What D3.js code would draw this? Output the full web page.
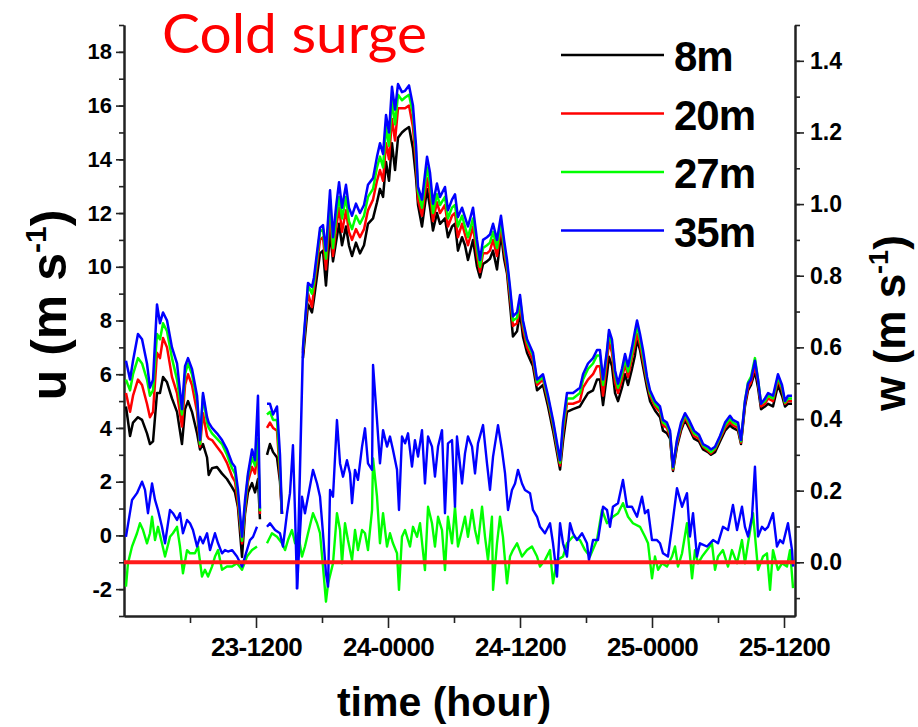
<!DOCTYPE html>
<html>
<head>
<meta charset="utf-8">
<script src="https://cdn.jsdelivr.net/npm/d3@7"></script>
<style>
body { margin: 0; background: #fff; }
svg { display: block; font-family: "Liberation Sans", Arial, sans-serif; }
</style>
</head>
<body>
<svg id="chart" width="918" height="727"></svg>
<script>
// hours since 23-0000, shared by the four u series (null = gap in record)
const uHours = [
  0.18,0.55,0.82,1.27,1.64,2.09,2.36,2.64,3.0,3.27,
  3.55,3.91,4.36,4.82,5.27,5.55,5.82,6.18,6.64,6.91,
  7.18,7.55,7.7,8.0,8.45,8.91,9.36,9.82,10.09,10.36,
  10.73,11.0,11.27,11.64,11.91,12.18,12.36,12.6,13.0,13.27,
  13.55,13.91,14.18,14.36,15.0,15.73,16.27,16.73,17.09,17.27,
  17.82,18.09,18.36,18.73,19.0,19.27,19.55,19.82,20.18,20.45,
  20.73,21.09,21.45,21.82,22.18,22.64,23.0,23.27,23.55,23.82,
  24.09,24.36,24.64,24.91,25.27,25.55,25.91,26.27,26.55,26.73,
  27.09,27.55,27.82,28.09,28.45,28.73,29.18,29.45,29.82,30.09,
  30.36,30.73,31.0,31.27,31.73,32.09,32.36,32.64,33.0,33.27,
  33.55,33.91,34.27,34.55,34.82,35.09,35.36,35.73,36.0,36.27,
  36.64,37.18,37.55,38.09,38.55,39.0,39.64,39.91,40.27,40.82,
  41.45,41.73,42.18,42.64,43.0,43.27,43.55,43.91,44.09,44.36,
  44.64,44.91,45.27,45.55,45.82,46.18,46.45,46.64,46.91,47.18,
  47.55,47.82,48.27,48.73,49.0,49.36,49.64,49.91,50.27,50.64,
  51.0,51.36,51.82,52.27,52.64,53.09,53.36,53.73,54.18,54.64,
  55.09,55.36,55.82,56.09,56.45,56.73,57.0,57.36,57.64,57.91,
  58.27,58.55,59.0,59.45,59.82,60.09,60.36,60.73
];
const u35 = [
  6.5,5.8,6.5,7.5,7.3,6.4,5.5,5.8,8.6,7.9,
  8.3,8.0,7.0,6.4,4.7,6.3,6.6,6.2,5.2,3.55,
  5.3,4.4,4.2,4.0,3.8,3.55,3.2,2.7,2.55,1.7,
  -0.05,1.3,2.3,3.2,2.8,5.2,1.0,null,4.9,4.9,
  4.5,4.8,3.0,0.8,null,-2.0,7.0,9.4,9.25,9.6,
  11.45,11.55,10.6,12.85,11.1,12.2,13.15,12.2,13.05,12.2,
  11.9,12.35,12.0,12.3,13.05,13.3,14.1,14.6,14.2,15.65,
  15.0,16.7,15.85,16.8,16.5,16.55,16.75,16.0,14.5,12.97,
  12.5,14.1,13.5,12.35,13.1,12.6,12.97,12.1,12.5,12.7,
  11.85,12.2,11.85,11.5,12.2,11.0,10.25,11.0,11.1,11.2,
  11.6,11.0,11.9,11.0,10.25,9.25,8.15,8.3,8.95,8.0,
  7.3,6.8,5.8,6.0,5.2,4.3,2.8,4.2,5.3,5.3,
  5.5,6.0,6.4,6.6,6.9,6.9,5.8,6.9,7.65,7.3,
  6.15,5.65,6.2,6.75,6.3,7.0,7.6,8.0,7.5,6.9,
  5.9,5.4,5.0,4.8,4.3,4.2,3.9,2.55,3.55,4.2,
  4.55,4.3,3.9,3.75,3.4,3.3,3.2,3.3,3.7,4.2,
  4.45,4.3,4.2,3.55,5.0,5.65,5.8,6.5,5.8,4.9,
  5.1,5.3,5.2,6.0,5.6,5.0,5.2,5.2
];
const u27 = [
  5.8,5.4,6.0,6.6,6.4,5.8,5.2,5.4,7.5,7.3,
  7.9,7.6,6.6,5.8,4.5,6.0,6.4,6.0,5.0,3.4,
  5.2,4.2,4.0,3.8,3.6,3.4,3.0,2.5,2.3,1.5,
  -0.2,1.1,2.2,2.9,2.6,3.6,0.9,null,4.5,4.6,
  4.3,4.3,2.5,0.8,null,null,6.9,9.3,9.0,9.4,
  11.3,11.4,10.3,12.5,10.7,11.8,12.6,11.8,12.6,11.7,
  11.4,11.9,11.6,11.9,12.6,12.9,13.7,14.1,13.7,15.2,
  14.5,16.2,15.3,16.4,16.2,16.3,16.4,15.7,14.2,12.8,
  12.2,13.7,13.1,12.0,12.7,12.3,12.6,11.8,12.2,12.3,
  11.5,11.9,11.5,11.1,11.8,10.7,10.0,10.7,10.8,10.9,
  11.3,10.7,11.7,10.8,10.1,9.1,8.0,8.1,8.8,7.9,
  7.2,6.7,5.7,5.9,5.1,4.2,2.7,4.0,5.1,5.1,
  5.3,5.8,6.2,6.4,6.7,6.7,5.6,6.8,7.5,7.1,
  6.0,5.5,6.0,6.6,6.1,6.8,7.4,7.8,7.3,6.7,
  5.8,5.3,4.9,4.7,4.2,4.1,3.8,2.5,3.5,4.1,
  4.5,4.2,3.8,3.7,3.35,3.2,3.1,3.25,3.65,4.1,
  4.35,4.2,4.1,3.5,5.0,5.7,5.9,6.6,5.8,4.9,
  5.0,5.2,5.1,5.9,5.5,4.95,5.1,5.1
];
const u20 = [
  5.3,4.6,5.2,5.8,5.6,4.9,4.4,4.6,6.8,6.6,
  7.35,7.0,5.9,5.3,4.05,5.6,6.0,5.6,4.6,3.3,
  4.55,3.7,3.6,3.55,3.3,3.05,2.7,2.2,2.0,1.2,
  -0.3,0.9,2.0,2.55,2.3,3.3,0.8,null,4.0,4.2,
  4.0,3.9,2.2,0.8,null,null,6.8,9.0,8.5,9.2,
  11.0,11.1,9.9,12.0,10.4,11.4,12.2,11.3,12.1,11.3,
  11.0,11.4,11.1,11.4,12.1,12.5,13.2,13.6,13.2,14.6,
  14.0,15.5,14.7,15.9,15.9,15.9,16.0,15.2,13.8,12.5,
  11.9,13.3,12.7,11.7,12.4,12.0,12.3,11.5,11.9,12.0,
  11.1,11.6,11.2,10.8,11.5,10.4,9.8,10.5,10.5,10.6,
  11.0,10.4,11.5,10.6,9.9,8.9,7.8,7.9,8.6,7.7,
  7.0,6.5,5.6,5.8,5.0,4.1,2.6,3.8,4.9,4.9,
  5.0,5.5,5.8,6.0,6.3,6.3,5.2,6.5,7.2,6.8,
  5.7,5.3,5.8,6.4,5.9,6.6,7.1,7.5,7.1,6.5,
  5.7,5.2,4.8,4.6,4.1,4.0,3.7,2.45,3.4,4.0,
  4.4,4.1,3.7,3.6,3.3,3.15,3.05,3.2,3.6,4.0,
  4.25,4.1,4.0,3.45,4.9,5.5,5.7,6.3,5.7,4.8,
  4.9,5.1,5.0,5.8,5.4,4.9,5.0,5.0
];
const u8 = [
  4.8,3.7,4.2,4.4,4.3,3.8,3.4,3.5,5.3,5.3,
  5.9,5.7,5.1,4.6,3.4,4.7,5.0,4.6,3.8,3.2,
  3.4,2.9,2.25,2.5,2.55,2.3,2.1,1.8,1.6,1.05,
  -0.8,0.8,1.6,1.95,1.6,2.1,0.6,null,3.0,3.4,
  3.1,2.9,2.0,0.8,null,null,6.6,8.6,8.3,8.8,
  10.5,10.6,9.3,11.3,10.2,10.9,11.6,10.8,11.5,10.8,
  10.4,10.9,10.5,10.8,11.6,11.8,12.4,12.9,12.6,13.9,
  13.2,14.6,13.6,14.8,15.0,15.1,15.2,14.4,13.3,12.3,
  11.5,12.9,12.2,11.35,12.0,11.6,11.8,11.1,11.5,11.6,
  10.6,11.1,10.8,10.25,11.0,10.0,9.6,10.1,10.2,10.3,
  10.6,9.9,11.25,10.3,9.75,8.6,7.4,7.6,8.3,7.4,
  6.8,6.3,5.4,5.6,4.8,3.9,2.45,3.5,4.6,4.7,
  4.8,5.0,5.3,5.4,5.8,5.8,4.85,6.0,6.65,6.3,
  5.3,5.0,5.5,6.0,5.6,6.2,6.7,7.3,6.9,6.3,
  5.5,5.0,4.65,4.4,3.9,3.8,3.6,2.4,3.3,3.9,
  4.3,4.0,3.6,3.5,3.2,3.1,3.0,3.1,3.5,3.9,
  4.1,4.0,3.9,3.4,4.8,5.4,5.6,6.1,5.5,4.7,
  4.8,4.9,4.8,5.6,5.2,4.8,4.9,4.9
];

// vertical velocity w at 35 m (right axis)
const wHours35 = [
  0.18,0.73,1.18,1.64,1.91,2.18,2.55,2.82,3.09,3.45,
  3.73,4.18,4.45,4.82,5.09,5.36,5.73,6.0,6.27,6.64,
  6.91,7.18,7.55,7.82,8.27,8.55,8.91,9.18,9.45,9.82,
  10.27,10.73,11.0,11.45,11.73,12.09,12.5,13.0,13.27,13.73,
  14.18,14.45,14.82,15.09,15.36,15.55,15.73,16.18,16.45,16.73,
  17.18,17.55,17.82,18.09,18.36,18.55,18.73,19.0,19.36,19.64,
  19.91,20.27,20.55,20.73,21.0,21.27,21.64,21.91,22.18,22.55,
  22.64,23.0,23.27,23.55,23.91,24.18,24.45,24.82,25.0,25.27,
  25.55,25.82,26.18,26.45,26.73,27.09,27.36,27.64,28.0,28.27,
  28.55,28.91,29.18,29.45,29.82,30.09,30.27,30.73,31.0,31.27,
  31.64,31.91,32.18,32.64,33.0,33.27,33.55,34.0,34.36,34.64,
  34.91,35.27,35.55,35.82,36.18,36.45,36.91,37.18,37.55,37.82,
  38.27,38.73,39.0,39.36,39.64,39.91,40.27,40.55,40.82,41.18,
  41.64,42.09,42.27,42.64,43.09,43.55,43.91,44.18,44.45,44.91,
  45.36,45.73,46.18,46.64,47.09,47.36,47.64,48.0,48.45,48.73,
  49.0,49.45,49.82,50.27,50.73,51.18,51.45,51.73,52.09,52.36,
  53.0,53.55,54.0,54.45,54.91,55.36,55.73,56.18,56.45,56.73,
  57.09,57.36,57.64,58.0,58.27,58.55,59.0,59.36,59.64,59.91,
  60.36,60.73,60.82
];
const w35 = [
  0.071,0.174,0.193,0.225,0.202,0.137,0.22,0.174,0.146,0.099,
  0.053,0.146,0.137,0.118,0.137,0.081,0.118,0.109,0.09,0.044,
  0.071,0.053,0.081,0.034,0.081,0.053,0.025,0.034,0.03,0.034,
  0.016,-0.012,0.016,0.062,0.071,0.099,null,0.099,0.109,0.09,
  0.081,0.044,0.137,0.193,0.327,0.137,-0.073,0.183,0.137,0.183,
  0.258,0.22,0.183,0.081,-0.031,-0.068,0.202,0.183,0.397,0.276,
  0.239,0.285,0.248,0.165,0.258,0.23,0.323,0.374,0.276,0.258,
  0.551,0.397,0.276,0.369,0.323,0.351,0.314,0.258,0.146,0.351,
  0.332,0.36,0.267,0.341,0.295,0.369,0.22,0.351,0.323,0.239,
  0.323,0.369,0.137,0.332,0.341,0.155,0.351,0.22,0.304,0.351,
  0.323,0.248,0.332,0.383,0.276,0.202,0.295,0.383,0.314,0.248,
  0.146,0.202,0.22,0.258,0.22,0.202,0.193,0.146,0.127,0.099,
  0.081,0.109,0.053,-0.04,0.109,0.053,0.016,0.109,0.081,0.062,
  0.081,0.053,0.006,0.062,0.062,0.155,0.146,0.099,0.155,0.165,
  0.23,0.155,0.155,0.127,0.183,0.137,0.146,0.062,0.062,0.053,
  0.025,0.016,0.099,0.207,0.155,0.193,0.072,0.137,0.016,0.053,
  0.044,0.062,0.053,0.099,0.09,0.16,0.09,0.155,0.099,0.072,
  0.127,0.267,0.072,0.099,0.09,0.099,0.137,0.044,0.062,0.053,
  0.109,0.034,-0.012
];

// vertical velocity w at 27 m (right axis)
const wHours27 = [
  0.18,0.36,0.73,1.18,1.45,1.73,2.09,2.36,2.55,2.82,
  3.09,3.45,3.73,4.18,4.45,4.82,5.09,5.36,5.73,6.0,
  6.45,6.73,7.09,7.36,7.64,8.0,8.27,8.55,8.91,9.36,
  9.82,10.27,10.73,11.18,11.64,12.09,12.5,13.0,13.45,13.91,
  14.36,14.64,14.91,15.27,15.55,15.82,16.18,16.45,16.73,17.18,
  17.55,17.82,18.09,18.36,18.55,19.0,19.36,19.64,19.82,20.09,
  20.36,20.73,21.0,21.27,21.64,21.91,22.18,22.55,22.64,23.0,
  23.27,23.55,23.91,24.18,24.45,24.82,25.0,25.27,25.55,26.0,
  26.27,26.64,26.91,27.36,27.64,28.0,28.27,28.55,28.91,29.18,
  29.45,29.82,30.09,30.36,30.73,31.0,31.27,31.64,31.91,32.18,
  32.55,32.82,33.09,33.45,33.55,33.91,34.18,34.45,34.82,35.09,
  35.36,35.73,36.18,36.64,37.09,37.55,37.82,38.27,38.73,39.0,
  39.36,39.91,40.27,40.82,41.45,41.91,42.36,43.0,43.45,43.91,
  44.45,44.91,45.36,45.82,46.27,46.91,47.36,47.64,48.0,48.27,
  48.55,48.91,49.36,49.82,50.09,50.36,50.73,51.18,51.64,51.91,
  52.18,52.55,53.0,53.45,53.73,54.0,54.45,54.91,55.27,55.73,
  56.18,56.45,56.73,57.18,57.64,58.09,58.45,58.73,59.0,59.45,
  59.82,60.27,60.55,60.82
];
const w27 = [
  -0.068,-0.003,0.044,0.081,0.109,0.09,0.053,0.081,0.127,0.062,
  0.099,0.053,0.016,0.071,0.081,0.099,0.044,-0.031,0.034,0.025,
  0.025,0.044,-0.04,-0.021,-0.04,-0.012,0.016,0.034,-0.021,-0.012,
  -0.012,-0.003,-0.021,0.016,0.034,0.044,null,0.053,0.081,0.071,
  0.053,0.034,0.062,0.09,0.053,0.081,0.016,0.044,0.081,0.137,
  0.109,0.081,-0.012,-0.11,-0.06,-0.003,0.137,0.09,-0.003,0.109,
  0.062,0.006,0.09,0.034,0.09,0.081,0.034,0.146,0.29,0.183,
  0.053,0.137,0.044,0.081,0.053,0.025,-0.077,0.071,0.09,0.044,
  0.099,0.071,0.109,-0.022,0.155,0.109,0.044,0.127,0.09,-0.022,
  0.127,0.053,0.155,0.044,0.09,0.127,0.071,0.146,0.09,0.053,
  0.155,0.071,0.006,0.127,-0.077,0.053,0.127,0.071,-0.059,0.016,
  0.034,0.053,0.016,0.034,0.044,0.016,-0.012,0.006,0.034,-0.059,
  0.006,0.016,0.053,0.072,0.062,0.034,0.016,0.062,0.146,0.109,
  0.127,0.137,0.165,0.127,0.109,0.099,0.072,0.053,-0.045,0.016,
  -0.021,-0.003,-0.012,0.016,0.044,-0.012,0.025,0.109,-0.045,0.034,
  -0.003,0.016,0.034,0.053,-0.021,0.016,0.034,-0.012,0.034,-0.003,
  0.062,-0.003,0.053,0.137,-0.021,0.016,0.025,-0.077,0.034,-0.021,
  -0.003,-0.012,0.034,-0.072
];

const legendLabels = ["8m", "20m", "27m", "35m"];
const seriesColors = ["#000000", "#ff0000", "#00ff00", "#0000ff"];
const uSeries = [u8, u20, u27, u35];
const uTicks = [-2, 0, 2, 4, 6, 8, 10, 12, 14, 16, 18];
const wTicks = [0, 0.2, 0.4, 0.6, 0.8, 1.0, 1.2, 1.4];
const xTickHours = [12, 24, 36, 48, 60];
const xTickLabels = ["23-1200", "24-0000", "24-1200", "25-0000", "25-1200"];

const svg = d3.select("#chart");

const x = d3.scaleLinear().domain([0, 61]).range([124, 795]);
const yU = d3.scaleLinear().domain([-3, 19]).range([616, 25]);
const yW = d3.scaleLinear().domain([-0.15, 1.5]).range([616, 25]);

function styleAxis(g, size) {
  g.attr("font-family", null).attr("font-size", null);
  g.select(".domain").attr("stroke", "#222").attr("stroke-width", 2);
  g.selectAll(".tick line").attr("stroke", "#222").attr("stroke-width", 1.6);
  g.selectAll(".tick text").attr("font-size", size).attr("font-weight", "bold").attr("fill", "#000");
}

// minor ticks
svg.append("g").attr("transform", "translate(124,0)")
  .call(d3.axisLeft(yU).tickValues(d3.range(-3, 20, 1)).tickSize(5).tickSizeOuter(0).tickFormat(""))
  .call(g => styleAxis(g, 0));
svg.append("g").attr("transform", "translate(795,0)")
  .call(d3.axisRight(yW).tickValues(d3.range(-0.1, 1.51, 0.1)).tickSize(5).tickSizeOuter(0).tickFormat(""))
  .call(g => styleAxis(g, 0));
svg.append("g").attr("transform", "translate(0,616)")
  .call(d3.axisBottom(x).tickValues([6, 18, 30, 42, 54]).tickSize(7).tickSizeOuter(0).tickFormat(""))
  .call(g => styleAxis(g, 0));

// major ticks
svg.append("g").attr("transform", "translate(124,0)")
  .call(d3.axisLeft(yU).tickValues(uTicks).tickSize(8).tickPadding(4).tickSizeOuter(0).tickFormat(d => String(d)))
  .call(g => styleAxis(g, 22));
svg.append("g").attr("transform", "translate(795,0)")
  .call(d3.axisRight(yW).tickValues(wTicks).tickSize(9).tickPadding(6).tickSizeOuter(0).tickFormat(d3.format(".1f")))
  .call(g => styleAxis(g, 23));
const xAxis = svg.append("g").attr("transform", "translate(0,616)")
  .call(d3.axisBottom(x).tickValues(xTickHours).tickSize(12).tickPadding(10).tickSizeOuter(0)
    .tickFormat((d, i) => xTickLabels[i]))
  .call(g => styleAxis(g, 26));
xAxis.selectAll(".tick text").attr("letter-spacing", -0.6);

// series
const lineU = d3.line().defined(d => d[1] != null).x(d => x(d[0])).y(d => yU(d[1]));
const lineW = d3.line().defined(d => d[1] != null).x(d => x(d[0])).y(d => yW(d[1]));

svg.append("path")
  .attr("d", lineW(wHours27.map((h, i) => [h, w27[i]])))
  .attr("fill", "none").attr("stroke", seriesColors[2]).attr("stroke-width", 2.4).attr("stroke-linejoin", "round");
svg.append("path")
  .attr("d", lineW(wHours35.map((h, i) => [h, w35[i]])))
  .attr("fill", "none").attr("stroke", seriesColors[3]).attr("stroke-width", 2.4).attr("stroke-linejoin", "round");

uSeries.forEach((s, k) => {
  svg.append("path")
    .attr("d", lineU(uHours.map((h, i) => [h, s[i]])))
    .attr("fill", "none").attr("stroke", seriesColors[k]).attr("stroke-width", 2.5).attr("stroke-linejoin", "round");
});

// w = 0 reference line
svg.append("line")
  .attr("x1", x(0)).attr("x2", x(61)).attr("y1", yW(0)).attr("y2", yW(0))
  .attr("stroke", "#ff1a1a").attr("stroke-width", 4);

// legend
const leg = svg.append("g");
legendLabels.forEach((lab, i) => {
  const ly = 55 + i * 58.5;
  leg.append("line").attr("x1", 561).attr("x2", 664).attr("y1", ly).attr("y2", ly)
    .attr("stroke", seriesColors[i]).attr("stroke-width", 2.5);
  leg.append("text").attr("x", 674).attr("y", ly + 16).text(lab)
    .attr("font-size", 42).attr("font-weight", "bold").attr("letter-spacing", -1);
});

// titles
svg.append("text").attr("x", 162).attr("y", 53).text("Cold surge")
  .attr("font-family", "Lato, 'Open Sans', sans-serif").attr("font-size", 54).attr("fill", "#ff0000")
  .attr("textLength", 265).attr("lengthAdjust", "spacingAndGlyphs");

svg.append("text").attr("x", 444).attr("y", 716).attr("text-anchor", "middle")
  .attr("font-size", 41).attr("font-weight", "bold").text("time (hour)");

const yl = svg.append("text").attr("transform", "translate(66,305) rotate(-90)")
  .attr("text-anchor", "middle").attr("font-size", 50).attr("font-weight", "bold");
yl.append("tspan").text("u (m s");
yl.append("tspan").attr("font-size", 30).attr("dy", -20).text("-1");
yl.append("tspan").attr("dy", 20).text(")");

const yr = svg.append("text").attr("transform", "translate(905,323) rotate(-90)")
  .attr("text-anchor", "middle").attr("font-size", 44).attr("font-weight", "bold");
yr.append("tspan").text("w (m s");
yr.append("tspan").attr("font-size", 27).attr("dy", -17).text("-1");
yr.append("tspan").attr("dy", 17).text(")");
</script>
</body>
</html>
